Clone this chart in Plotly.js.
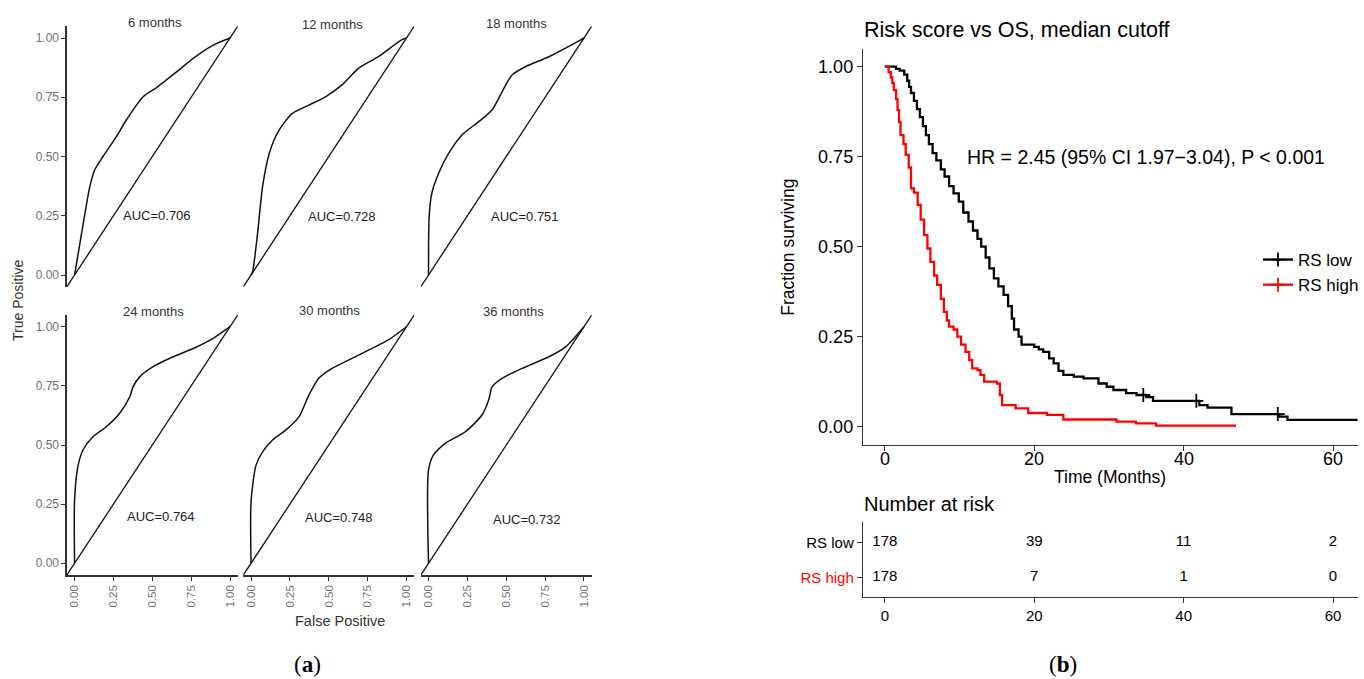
<!DOCTYPE html>
<html><head><meta charset="utf-8">
<script src="https://cdn.plot.ly/plotly-3.0.1.min.js"></script>
<style>html,body{margin:0;padding:0;background:#fff}#chart{width:1364px;height:679px}</style>
</head><body><div id="chart"></div>
<script>
// ---------- ROC data (panel a) ----------
const rocTitles = ["6 months","12 months","18 months","24 months","30 months","36 months"];
const aucLabels = ["AUC=0.706","AUC=0.728","AUC=0.751","AUC=0.764","AUC=0.748","AUC=0.732"];
const fpr6  = [0, 0.054, 0.097, 0.129, 0.183, 0.269, 0.333, 0.441, 0.527, 0.656, 0.763, 0.892, 1.0];
const tpr6  = [0, 0.21, 0.37, 0.443, 0.50, 0.584, 0.654, 0.752, 0.791, 0.857, 0.914, 0.97, 1.0];
const fpr12 = [0, 0.01, 0.042, 0.074, 0.117, 0.181, 0.266, 0.372, 0.479, 0.585, 0.691, 0.819, 0.968, 1.0];
const tpr12 = [0, 0.014, 0.176, 0.373, 0.513, 0.612, 0.682, 0.717, 0.752, 0.802, 0.872, 0.921, 0.992, 1.0];
const fpr18 = [0, 0.004, 0.021, 0.065, 0.129, 0.215, 0.323, 0.408, 0.473, 0.537, 0.624, 0.774, 0.979, 1.0];
const tpr18 = [0, 0.246, 0.345, 0.429, 0.513, 0.591, 0.647, 0.696, 0.773, 0.844, 0.879, 0.921, 0.992, 1.0];
const fpr24 = [0, 0, 0.021, 0.054, 0.118, 0.204, 0.29, 0.355, 0.376, 0.419, 0.505, 0.634, 0.763, 0.892, 1.0];
const tpr24 = [0, 0.268, 0.408, 0.479, 0.535, 0.577, 0.634, 0.704, 0.746, 0.788, 0.831, 0.873, 0.908, 0.951, 1.0];
const fpr30 = [0, 0, 0.032, 0.074, 0.138, 0.223, 0.308, 0.372, 0.436, 0.521, 0.627, 0.755, 0.883, 1.0];
const tpr30 = [0, 0.26, 0.415, 0.471, 0.521, 0.563, 0.619, 0.711, 0.782, 0.824, 0.859, 0.901, 0.944, 1.0];
const fpr36 = [0, 0, 0.032, 0.108, 0.237, 0.344, 0.387, 0.409, 0.473, 0.602, 0.774, 0.882, 1.0];
const tpr36 = [0, 0.394, 0.458, 0.507, 0.556, 0.627, 0.69, 0.746, 0.782, 0.824, 0.873, 0.915, 1.0];
const diagRef = [-0.05, 1.05];
const rocTicks = [0, 0.25, 0.5, 0.75, 1];

// ---------- Kaplan-Meier data (panel b) ----------
const groups = ["RS low", "RS high"];
const lowTime = [0,1.5,2.0,2.6,3.0,3.25,3.5,3.9,4.3,4.7,5.1,5.5,5.9,6.4,6.9,7.5,8.0,8.6,9.2,9.9,10.5,11.2,11.8,12.4,12.9,13.5,14.0,14.6,15.2,15.9,16.5,17.0,17.3,17.9,18.3,20.0,20.6,21.2,22.0,22.6,23.25,23.9,25.3,26.6,28.6,29.7,30.6,32.3,33.7,35.0,35.9,42.1,43.2,46.4,52.8,53.9,63.3];
const lowSurv = [1.0,0.994,0.989,0.978,0.961,0.944,0.927,0.905,0.882,0.86,0.835,0.81,0.785,0.76,0.74,0.715,0.695,0.668,0.648,0.625,0.595,0.57,0.545,0.522,0.5,0.47,0.44,0.412,0.39,0.366,0.335,0.3,0.27,0.25,0.228,0.222,0.215,0.208,0.19,0.176,0.155,0.144,0.139,0.134,0.12,0.111,0.102,0.093,0.088,0.082,0.072,0.06,0.053,0.035,0.028,0.019,0.019];
const lowCensorTime = [34.6, 41.7, 52.6];
const lowCensorSurv = [0.088, 0.072, 0.035];
const highTime = [0,0.5,0.8,1.0,1.2,1.5,1.7,1.9,2.1,2.5,2.8,3.2,3.5,3.9,4.4,4.8,5.25,5.7,6.1,6.6,7.0,7.5,7.9,8.3,8.6,9.2,9.7,10.2,10.8,11.3,11.7,12.4,12.8,13.3,15.0,15.4,15.7,17.5,19.2,21.7,23.9,31.0,33.6,36.3,47.0];
const highSurv = [1.0,0.985,0.97,0.955,0.935,0.91,0.88,0.847,0.81,0.785,0.755,0.72,0.662,0.65,0.616,0.575,0.532,0.495,0.458,0.42,0.394,0.355,0.319,0.295,0.278,0.27,0.25,0.228,0.208,0.185,0.162,0.157,0.144,0.125,0.12,0.088,0.06,0.051,0.038,0.033,0.02,0.014,0.009,0.003,0.003];
const kmYTicks = [0, 0.25, 0.5, 0.75, 1];
const timeTicks = [0, 20, 40, 60];
const riskTimes = [0, 20, 40, 60];
const riskLow = [178, 39, 11, 2];
const riskHigh = [178, 7, 1, 0];
const hrText = "HR = 2.45 (95% CI 1.97\u22123.04), P < 0.001";

// ---------- helpers ----------
const W = 1364, H = 679;
const PX = x => x / W, PY = y => 1 - y / H;
const FONT = "'Liberation Sans', Arial, Helvetica, sans-serif";
const colLow = "#000000", colHigh = "#FF0000";

const rocSets = [[fpr6,tpr6],[fpr12,tpr12],[fpr18,tpr18],[fpr24,tpr24],[fpr30,tpr30],[fpr36,tpr36]];
const colDom = [[67,238.5],[244,415.5],[422,593.5]];
const rowDom = [[286.85,26.15],[575.1,314.9]];

const traces = [];
const layout = {
  width: W, height: H, margin: {l:0,r:0,t:0,b:0},
  paper_bgcolor: "#fff", plot_bgcolor: "rgba(0,0,0,0)",
  font: {family: FONT, color: "#000"},
  showlegend: true,
  legend: {x: PX(1262), y: PY(242), xanchor: "left", yanchor: "top",
           font: {size: 17, family: FONT, color: "#000"}, bgcolor: "rgba(0,0,0,0)",
           itemwidth: 30, tracegroupgap: 0},
  annotations: []
};

for (let i = 0; i < 6; i++) {
  const r = Math.floor(i / 3), c = i % 3;
  const n = i + 1;
  const xa = n === 1 ? "x" : "x" + n, ya = n === 1 ? "y" : "y" + n;
  const xk = n === 1 ? "xaxis" : "xaxis" + n, yk = n === 1 ? "yaxis" : "yaxis" + n;
  const showX = r === 1, showY = c === 0;
  layout[xk] = {
    domain: [PX(colDom[c][0]), PX(colDom[c][1])], anchor: ya,
    range: [-0.05, 1.05], showgrid: false, zeroline: false,
    showline: showX, linecolor: "#333", linewidth: 1.4,
    ticks: showX ? "outside" : "", ticklen: 4, tickcolor: "#333", tickwidth: 1,
    showticklabels: showX, tickvals: rocTicks, tickformat: ".2f", tickangle: -90,
    tickfont: {size: 11.5, color: "#707070", family: FONT}, fixedrange: true
  };
  layout[yk] = {
    domain: [PY(rowDom[r][0]), PY(rowDom[r][1])], anchor: xa,
    range: [-0.05, 1.05], showgrid: false, zeroline: false,
    showline: showY, linecolor: "#333", linewidth: 1.4,
    ticks: showY ? "outside" : "", ticklen: 4, tickcolor: "#333", tickwidth: 1,
    showticklabels: showY, tickvals: rocTicks, tickformat: ".2f",
    tickfont: {size: 12, color: "#707070", family: FONT}, fixedrange: true
  };
  traces.push({x: diagRef, y: diagRef, xaxis: xa, yaxis: ya, mode: "lines",
    line: {color: "#111", width: 1.3}, showlegend: false, hoverinfo: "skip"});
  traces.push({x: rocSets[i][0], y: rocSets[i][1], xaxis: xa, yaxis: ya, mode: "lines",
    line: {color: "#111", width: 1.5, shape: "spline", smoothing: 0.7}, showlegend: false, hoverinfo: "skip"});
}

// ROC titles & AUC labels
const titlePos = [[155,23],[333,25],[518,24],[154,311.5],[330,310.5],[515,311.5]];
const aucPos = [[0.53,0.253],[0.587,0.246],[0.622,0.246],[0.555,0.197],[0.564,0.194],[0.632,0.187]];
for (let i = 0; i < 6; i++) {
  const n = i + 1;
  layout.annotations.push({text: rocTitles[i], xref: "paper", yref: "paper",
    x: PX(titlePos[i][0]), y: PY(titlePos[i][1]), xanchor: "center", yanchor: "middle",
    showarrow: false, font: {size: 13, color: "#333", family: FONT}});
  layout.annotations.push({text: aucLabels[i], xref: n === 1 ? "x" : "x" + n, yref: n === 1 ? "y" : "y" + n,
    x: aucPos[i][0], y: aucPos[i][1], xanchor: "center", yanchor: "middle",
    showarrow: false, font: {size: 13, color: "#222", family: FONT}});
}
layout.annotations.push({text: "True Positive", xref: "paper", yref: "paper", x: PX(18), y: PY(300),
  textangle: -90, showarrow: false, xanchor: "center", yanchor: "middle", font: {size: 14, color: "#333", family: FONT}});
layout.annotations.push({text: "False Positive", xref: "paper", yref: "paper", x: PX(341), y: PY(620.5),
  showarrow: false, xanchor: "center", yanchor: "middle", font: {size: 14.5, color: "#333", family: FONT}});
layout.annotations.push({text: "(<b>a</b>)", xref: "paper", yref: "paper", x: PX(308), y: PY(664),
  showarrow: false, xanchor: "center", yanchor: "middle", font: {size: 23, color: "#000", family: "'Liberation Serif', 'DejaVu Serif', serif"}});
layout.annotations.push({text: "(<b>b</b>)", xref: "paper", yref: "paper", x: PX(1066), y: PY(664),
  showarrow: false, xanchor: "center", yanchor: "middle", font: {size: 23, color: "#000", family: "'Liberation Serif', 'DejaVu Serif', serif"}});

// ---------- KM axes ----------
const kmXDom = [PX(865.7), PX(1361.7)];
layout.xaxis7 = {domain: kmXDom, anchor: "y7", range: [-2.9, 63.3], showgrid: false, zeroline: false,
  showline: true, linecolor: "#333", linewidth: 1.4, ticks: "outside", ticklen: 5, tickcolor: "#333",
  showticklabels: false, tickvals: timeTicks, fixedrange: true};
layout.yaxis7 = {domain: [PY(444.7), PY(48.7)], anchor: "x7", range: [-0.05, 1.05], showgrid: false, zeroline: false,
  showline: true, linecolor: "#333", linewidth: 1.4, ticks: "outside", ticklen: 5, tickcolor: "#333",
  tickvals: kmYTicks, tickformat: ".2f", tickfont: {size: 18, color: "#000", family: FONT}, fixedrange: true};
layout.xaxis8 = {domain: kmXDom, anchor: "y8", range: [-2.9, 63.3], showgrid: false, zeroline: false,
  showline: true, linecolor: "#333", linewidth: 1.4, ticks: "outside", ticklen: 5, tickcolor: "#333",
  tickvals: timeTicks, tickfont: {size: 15, color: "#000", family: FONT}, fixedrange: true};
layout.yaxis8 = {domain: [PY(596.7), PY(521.7)], anchor: "x8", range: [0.457, 2.6], showgrid: false, zeroline: false,
  showline: true, linecolor: "#333", linewidth: 1.4, ticks: "outside", ticklen: 5, tickcolor: "#333",
  tickvals: [1, 2], ticktext: ['<span style="fill:' + colHigh + '">' + groups[1] + '</span>', groups[0]],
  tickfont: {size: 15, color: "#000", family: FONT}, fixedrange: true};

// KM x tick labels (placed closer to the axis, as in the reference)
timeTicks.forEach(t => layout.annotations.push({text: String(t), xref: "x7", yref: "paper", x: t, y: PY(458.5),
  xanchor: "center", yanchor: "middle", showarrow: false, font: {size: 18, color: "#000", family: FONT}}));

// KM step curves
traces.push({x: lowTime, y: lowSurv, xaxis: "x7", yaxis: "y7", mode: "lines", line: {shape: "hv", color: colLow, width: 2.3},
  showlegend: false, hoverinfo: "skip"});
traces.push({x: highTime, y: highSurv, xaxis: "x7", yaxis: "y7", mode: "lines", line: {shape: "hv", color: colHigh, width: 2.3},
  showlegend: false, hoverinfo: "skip"});
traces.push({x: lowCensorTime, y: lowCensorSurv, xaxis: "x7", yaxis: "y7", mode: "markers",
  marker: {symbol: "cross-thin", size: 10, line: {color: colLow, width: 1.8}}, showlegend: false, hoverinfo: "skip"});
// legend entries (line with censor '+')
traces.push({x: [null], y: [null], xaxis: "x7", yaxis: "y7", mode: "lines+markers", name: groups[0],
  line: {color: colLow, width: 2.3}, marker: {symbol: "cross-thin", size: 10, line: {color: colLow, width: 1.8}}});
traces.push({x: [null], y: [null], xaxis: "x7", yaxis: "y7", mode: "lines+markers", name: groups[1],
  line: {color: colHigh, width: 2.3}, marker: {symbol: "cross-thin", size: 10, line: {color: colHigh, width: 1.8}}});

// risk table
traces.push({x: riskTimes, y: riskTimes.map(() => 2), text: riskLow.map(String), xaxis: "x8", yaxis: "y8",
  mode: "text", textfont: {size: 15, color: "#000", family: FONT}, textposition: "middle center", showlegend: false, hoverinfo: "skip", cliponaxis: false});
traces.push({x: riskTimes, y: riskTimes.map(() => 1), text: riskHigh.map(String), xaxis: "x8", yaxis: "y8",
  mode: "text", textfont: {size: 15, color: "#000", family: FONT}, textposition: "middle center", showlegend: false, hoverinfo: "skip", cliponaxis: false});

// KM annotations
layout.annotations.push({text: "Risk score vs OS, median cutoff", xref: "paper", yref: "paper", x: PX(865), y: PY(30),
  xanchor: "left", yanchor: "middle", showarrow: false, font: {size: 21.5, color: "#000", family: FONT}});
layout.annotations.push({text: hrText, xref: "x7", yref: "y7", x: 35, y: 0.75,
  xanchor: "center", yanchor: "middle", showarrow: false, font: {size: 19.5, color: "#000", family: FONT}});
layout.annotations.push({text: "Fraction surviving", xref: "paper", yref: "paper", x: PX(790), y: PY(247),
  textangle: -90, xanchor: "center", yanchor: "middle", showarrow: false, font: {size: 17.5, color: "#000", family: FONT}});
layout.annotations.push({text: "Time (Months)", xref: "paper", yref: "paper", x: PX(1113.7), y: PY(477),
  xanchor: "center", yanchor: "middle", showarrow: false, font: {size: 17.5, color: "#000", family: FONT}});
layout.annotations.push({text: "Number at risk", xref: "paper", yref: "paper", x: PX(865), y: PY(504),
  xanchor: "left", yanchor: "middle", showarrow: false, font: {size: 20, color: "#000", family: FONT}});

Plotly.newPlot("chart", traces, layout, {displayModeBar: false, staticPlot: true});
</script></body></html>
